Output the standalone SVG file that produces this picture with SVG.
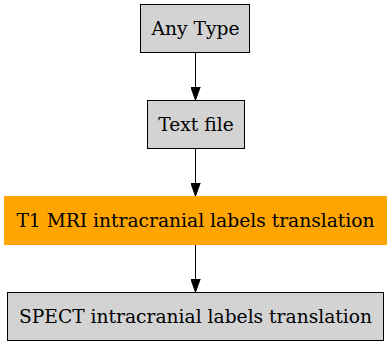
<svg xmlns="http://www.w3.org/2000/svg" width="391" height="347" viewBox="0 0 391 347">
<style>
.box{fill:#d3d3d3;stroke:#000;stroke-width:1}
.lbl{font-family:"DejaVu Serif",serif;font-size:18.67px;text-anchor:middle;fill:#000}
.edge{stroke:#000;stroke-width:1;fill:none}
</style>
<defs>
<marker id="ah" markerWidth="13" markerHeight="10" refX="13" refY="5" orient="auto" markerUnits="userSpaceOnUse">
<path d="M0,0.3 L13,5 L0,9.7 Z" fill="#000" stroke="#000" stroke-width="1"/>
</marker>
</defs>
<rect x="0" y="0" width="391" height="347" fill="#fff"/>
<g id="connectors">
<line class="edge" x1="195.5" y1="52.5" x2="195.5" y2="100" marker-end="url(#ah)"/>
<line class="edge" x1="195.5" y1="148.5" x2="195.5" y2="196" marker-end="url(#ah)"/>
<line class="edge" x1="195.5" y1="244.5" x2="195.5" y2="292" marker-end="url(#ah)"/>
</g>
<g id="any_type">
<rect class="box" x="140.5" y="4.5" width="109" height="48"/>
<text class="lbl" x="195.5" y="35">Any Type</text>
</g>
<g id="text_file">
<rect class="box" x="147.5" y="100.5" width="97" height="48"/>
<text class="lbl" x="196" y="131">Text file</text>
</g>
<g id="t1_mri">
<rect x="4" y="196" width="383" height="49" fill="#ffa500"/>
<text class="lbl" x="195.5" y="227">T1 MRI intracranial labels translation</text>
</g>
<g id="spect">
<rect class="box" x="7.5" y="292.5" width="376" height="48"/>
<text class="lbl" x="195.5" y="323">SPECT intracranial labels translation</text>
</g>
</svg>
